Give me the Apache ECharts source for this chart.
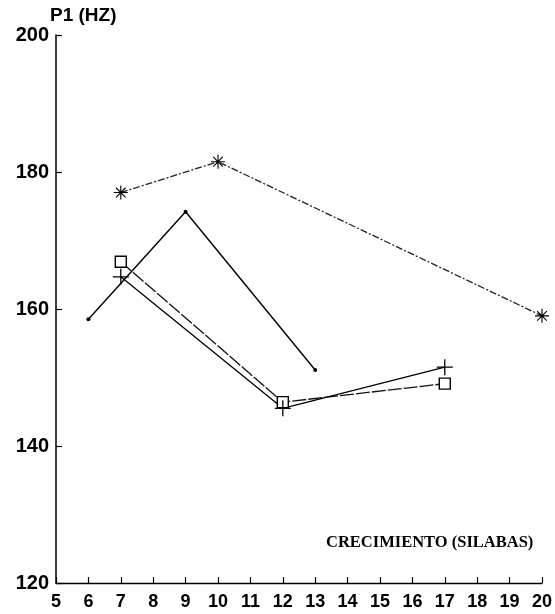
<!DOCTYPE html>
<html>
<head>
<meta charset="utf-8">
<script src="https://cdn.jsdelivr.net/npm/echarts@6/dist/echarts.min.js"></script>
<style>
html,body{margin:0;padding:0;background:#fff;}
#chart{width:555px;height:614px;}
</style>
</head>
<body>
<div id="chart"></div>
<script>
// X tick labels (syllables) and Y ticks
var xTickLabels = ['5','6','7','8','9','10','11','12','13','14','15','16','17','18','19','20'];
var yTicks = [120, 140, 160, 180, 200];

// Series: asterisk (dash-dot)
var xAsterisk = [7, 10, 20];
var yAsterisk = [177, 181.5, 159];
// Series: dot (solid)
var xDot = [6, 9, 13];
var yDot = [158.5, 174.2, 151.1];
// Series: square
var xSquare = [7, 12, 17];
var ySquare = [166.9, 146.4, 149.1];
// Series: plus
var xPlus = [7, 12, 17];
var yPlus = [164.7, 145.5, 151.5];

function pairs(xs, ys){ return xs.map(function(x,i){ return [x, ys[i]]; }); }

var asteriskPath = 'path://M0,9.2L20,9.2L20,10.8L0,10.8Z M9.2,0L10.8,0L10.8,20L9.2,20Z M2.6,3.7L3.7,2.6L17.4,16.3L16.3,17.4Z M16.3,2.6L17.4,3.7L3.7,17.4L2.6,16.3Z';
var plusPath = 'path://M9.2,0L10.8,0L10.8,20L9.2,20Z M0,9.2L20,9.2L20,10.8L0,10.8Z';

var chart = echarts.init(document.getElementById('chart'), null, {renderer:'canvas'});
chart.setOption({
  animation: false,
  backgroundColor: '#fff',
  title: {
    text: 'CRECIMIENTO (SILABAS)',
    left: 321, top: 529,
    textStyle: {fontFamily: 'Liberation Serif', fontSize: 16.5, fontWeight: 'bold', color: '#000'}
  },
  grid: {left: 56, right: 13, top: 35, bottom: 31, containLabel: false},
  xAxis: {
    type: 'value', min: 5, max: 20, interval: 1,
    axisLine: {lineStyle: {color: '#000', width: 1.3}},
    axisTick: {inside: true, length: 6, lineStyle: {color: '#000', width: 1.2}},
    splitLine: {show: false},
    axisLabel: {
      margin: 10, color: '#000', fontFamily: 'Liberation Sans', fontWeight: 'bold', fontSize: 18,
      formatter: function(v){ var i = Math.round(v) - 5; return xTickLabels[i] !== undefined ? xTickLabels[i] : ''; }
    }
  },
  yAxis: {
    type: 'value', min: yTicks[0], max: yTicks[yTicks.length-1], interval: 20,
    name: 'P1 (HZ)', nameLocation: 'end', nameGap: 17,
    nameTextStyle: {color: '#000', fontFamily: 'Liberation Sans', fontWeight: 'bold', fontSize: 19, align: 'left', verticalAlign: 'middle', padding: [0,0,0,-6]},
    axisLine: {show: true, lineStyle: {color: '#000', width: 1.5}},
    axisTick: {show: true, inside: true, length: 6, lineStyle: {color: '#000', width: 1.2}},
    splitLine: {show: false},
    axisLabel: {margin: 7, color: '#000', fontFamily: 'Liberation Sans', fontWeight: 'bold', fontSize: 20,
      formatter: function(v){ return String(v); }}
  },
  series: [
    {
      type: 'line', data: pairs(xAsterisk, yAsterisk),
      symbol: asteriskPath, symbolSize: 14,
      itemStyle: {color: '#000'},
      lineStyle: {color: '#222', width: 1.3, type: [7, 2, 2, 2]}
    },
    {
      type: 'line', data: pairs(xDot, yDot),
      symbol: 'circle', symbolSize: 4,
      itemStyle: {color: '#000'},
      lineStyle: {color: '#000', width: 1.4}
    },
    {
      type: 'line', data: pairs(xSquare, ySquare),
      symbol: 'rect', symbolSize: 11,
      itemStyle: {color: '#fff', borderColor: '#000', borderWidth: 1.4},
      lineStyle: {color: '#111', width: 1.3, type: [14, 2]}
    },
    {
      type: 'line', data: pairs(xPlus, yPlus),
      symbol: plusPath, symbolSize: 16,
      itemStyle: {color: '#000'},
      lineStyle: {color: '#000', width: 1.3}
    }
  ]
});
</script>
</body>
</html>
